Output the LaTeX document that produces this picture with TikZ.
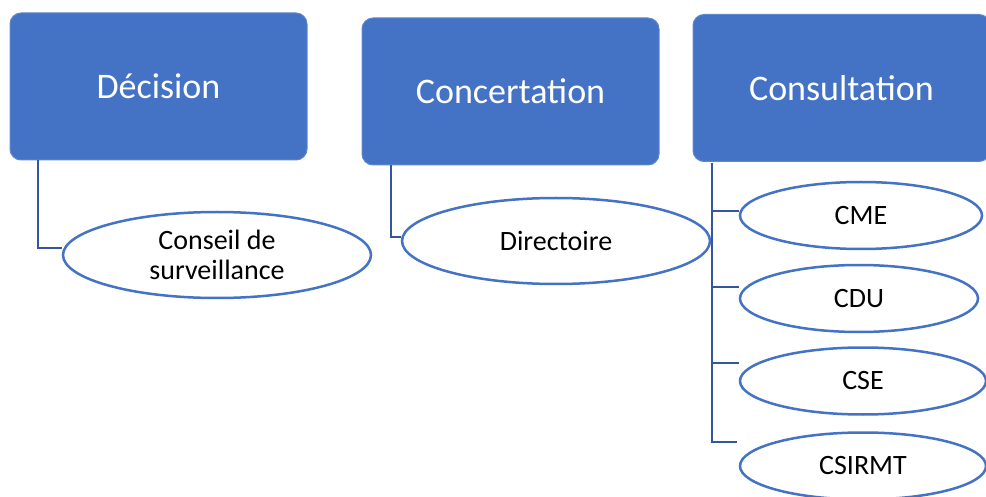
\documentclass[tikz,border=0pt]{standalone}
\usepackage{fontspec}
\setmainfont{Carlito}
\usetikzlibrary{shapes.geometric}
\definecolor{boxblue}{HTML}{4472C4}
\definecolor{linkblue}{RGB}{52,86,156}
\tikzset{
  headbox/.style={rectangle, fill=boxblue, draw=boxblue!85!white, line width=1pt,
    rounded corners=11pt, minimum width=297pt, minimum height=147pt, inner sep=0pt,
    text=white, font=\fontsize{36}{40}\selectfont},
  bigoval/.style={ellipse, draw=boxblue, line width=2.5pt, fill=white,
    minimum width=308pt, minimum height=86pt, inner sep=0pt, align=center,
    font=\fontsize{28}{30.5}\selectfont},
  smalloval/.style={ellipse, draw=boxblue, line width=2.5pt, fill=white,
    minimum width=242pt, minimum height=67pt, inner sep=0pt,
    font=\fontsize{28}{30}\selectfont},
  link/.style={draw=linkblue, line width=2.8pt}
}
\begin{document}
\begin{tikzpicture}[x=1pt,y=-1pt]
\useasboundingbox (0,0) rectangle (986,497);
\clip (0,0) rectangle (986,497);
\fill[white] (0,0) rectangle (986,497);
% head boxes
\node[headbox] (dec) at (158.5,86.5) {Décision};
\node[headbox] (conc) at (510.5,91.5) {Concertation};
\node[headbox] (cons) at (841.5,88) {Consultation};
% children
\node[bigoval] (cs) at (217,255) {Conseil de\\surveillance};
\node[bigoval] (dir) at (556,241) {Directoire};
\node[smalloval] (cme) at (861,215.5) {CME};
\node[smalloval, minimum width=238pt] (cdu) at (859,298.5) {CDU};
\node[smalloval, minimum width=246pt] (cse) at (863,381) {CSE};
\node[smalloval, minimum width=246pt] (csi) at (863,466) {CSIRMT};
% connectors
\coordinate (t1) at (38,160);
\coordinate (t2) at (391,165);
\coordinate (t3) at (712,163);
\coordinate (b4) at (737,442);
\draw[link] (t1) |- ([yshift=7pt]cs.west);
\draw[link] (t2) |- ([yshift=4pt]dir.west);
\draw[link] (t3) |- (b4);
\draw[link] (t3 |- 0,211) -- (cme.west |- 0,211);
\draw[link] (t3 |- 0,287) -- (cdu.west |- 0,287);
\draw[link] (t3 |- 0,363) -- (cse.west |- 0,363);
\end{tikzpicture}
\end{document}
